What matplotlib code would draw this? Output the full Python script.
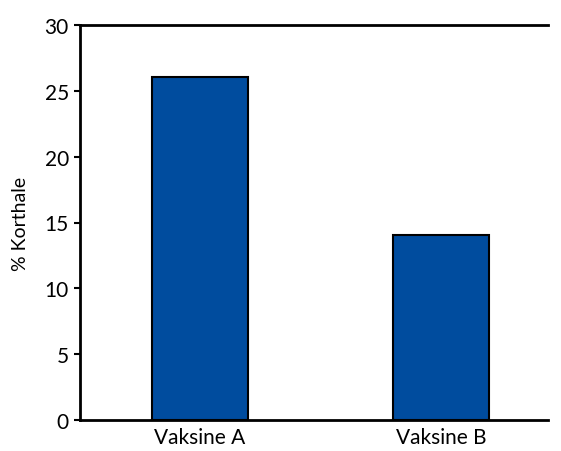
import matplotlib
matplotlib.use("Agg")
import matplotlib.pyplot as plt

categories = ["Vaksine A", "Vaksine B"]
values = [26.05, 14.05]
yticks = [0, 5, 10, 15, 20, 25, 30]

plt.rcParams['font.family'] = ['Lato', 'DejaVu Sans']

fig = plt.figure(figsize=(5.61, 4.52), dpi=100)
ax = fig.add_axes([80/561, 1 - 421/452, 468/561, 395/452])

x = list(range(len(categories)))
ax.bar(x, values, width=0.40, color="#004c9e", edgecolor="black", linewidth=1.5, zorder=3)

ax.set_xlim(-0.498, 1.444)
ax.set_ylim(0, 30)
ax.set_yticks(yticks)
ax.set_xticks(x)
ax.set_xticklabels(categories, fontsize=15)
ax.tick_params(axis='y', labelsize=15, length=4, width=1.5, direction='out', pad=4)
ax.tick_params(axis='x', length=0, pad=5)
ax.set_ylabel("% Korthale", fontsize=14, labelpad=11)

for s in ['left', 'top', 'bottom']:
    ax.spines[s].set_linewidth(2)
ax.spines['right'].set_visible(False)

fig.savefig("out.png", dpi=100)
